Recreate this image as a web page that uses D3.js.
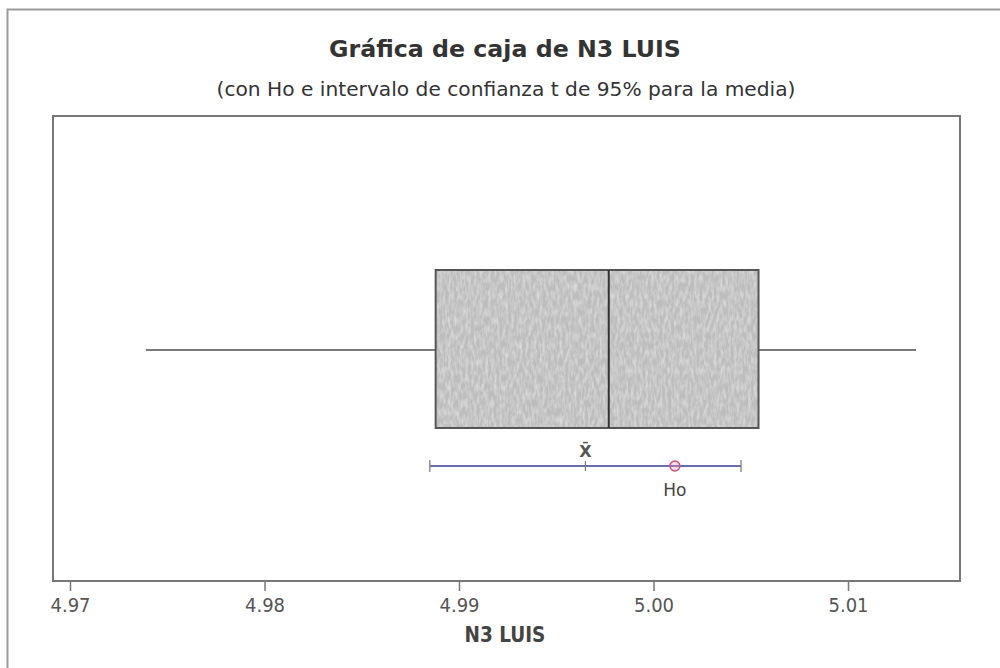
<!DOCTYPE html>
<html>
<head>
<meta charset="utf-8">
<script src="https://cdn.jsdelivr.net/npm/d3@7"></script>
<style>
  html, body { margin: 0; padding: 0; background: #fff; }
  svg { display: block; }
</style>
</head>
<body>
<svg id="chart" width="1000" height="668"></svg>
<script>
// Summary statistics for N3 LUIS
const boxStats = { min: 4.9739, q1: 4.9888, median: 4.9977, q3: 5.0054, max: 5.0135 };
const ciBounds = [4.9885, 5.0045];
const meanValue = 4.9965;
const nullValue = 5.0011;
const tickValues = [4.97, 4.98, 4.99, 5.00, 5.01];
const tickLabels = ["4.97", "4.98", "4.99", "5.00", "5.01"];

const svg = d3.select("#chart");
const W = 1000, H = 668;
const frame = { left: 53, right: 960, top: 116, bottom: 581 };
const fontFam = "'DejaVu Sans', sans-serif";
const fontCond = "'DejaVu Sans Condensed', 'DejaVu Sans', sans-serif";

// grainy texture for the box fill
const defs = svg.append("defs");
const grain = defs.append("filter").attr("id", "grain").attr("x", 0).attr("y", 0).attr("width", 1).attr("height", 1);
grain.append("feTurbulence").attr("type", "fractalNoise").attr("baseFrequency", "0.35 0.12").attr("numOctaves", 2).attr("seed", 4).attr("result", "noise");
grain.append("feColorMatrix").attr("in", "noise").attr("type", "matrix")
  .attr("values", "0 0 0 0 0.94  0 0 0 0 0.94  0 0 0 0 0.94  0.9 0 0 0 -0.32").attr("result", "speck");
grain.append("feComposite").attr("in", "speck").attr("in2", "SourceGraphic").attr("operator", "in").attr("result", "specks");
grain.append("feMerge").selectAll("feMergeNode").data(["SourceGraphic", "specks"]).join("feMergeNode").attr("in", d => d);

// outer border of the graph window
svg.append("path")
  .attr("d", `M7.5,${H} V9.5 H${W}`)
  .attr("fill", "none").attr("stroke", "#9a9a9a").attr("stroke-width", 2);

// titles
svg.append("text")
  .attr("x", 505).attr("y", 57)
  .attr("text-anchor", "middle")
  .attr("font-family", fontFam).attr("font-weight", "bold").attr("font-size", 23.7)
  .attr("fill", "#333")
  .text("Gráfica de caja de N3 LUIS");
svg.append("text")
  .attr("x", 506).attr("y", 96)
  .attr("text-anchor", "middle")
  .attr("font-family", fontFam).attr("font-size", 20.2)
  .attr("fill", "#333")
  .text("(con Ho e intervalo de confianza t de 95% para la media)");

// x scale
const x = d3.scaleLinear().domain([4.97, 5.01]).range([70, 848]);

// plot frame
svg.append("rect")
  .attr("x", frame.left).attr("y", frame.top)
  .attr("width", frame.right - frame.left).attr("height", frame.bottom - frame.top)
  .attr("fill", "#fff").attr("stroke", "#777").attr("stroke-width", 2);

// bottom axis
const axis = d3.axisBottom(x)
  .tickValues(tickValues)
  .tickFormat((d, i) => tickLabels[i])
  .tickSize(9).tickSizeOuter(0).tickPadding(7);
const gAxis = svg.append("g").attr("transform", `translate(0,${frame.bottom + 1})`).call(axis);
gAxis.select(".domain").remove();
gAxis.selectAll(".tick line").attr("stroke", "#777").attr("stroke-width", 1.5);
gAxis.selectAll(".tick text")
  .attr("font-family", fontCond).attr("font-size", 20).attr("fill", "#555");

svg.append("text")
  .attr("x", 505).attr("y", 642)
  .attr("text-anchor", "middle")
  .attr("font-family", fontCond).attr("font-weight", "bold").attr("font-size", 20.5)
  .attr("fill", "#444")
  .text("N3 LUIS");

// box plot
const yMid = 350, boxTop = 270, boxBot = 428;
svg.append("line")
  .attr("x1", x(boxStats.min)).attr("x2", x(boxStats.q1))
  .attr("y1", yMid).attr("y2", yMid)
  .attr("stroke", "#7a7a7a").attr("stroke-width", 2);
svg.append("line")
  .attr("x1", x(boxStats.q3)).attr("x2", x(boxStats.max))
  .attr("y1", yMid).attr("y2", yMid)
  .attr("stroke", "#7a7a7a").attr("stroke-width", 2);
svg.append("rect")
  .attr("x", x(boxStats.q1)).attr("y", boxTop)
  .attr("width", x(boxStats.q3) - x(boxStats.q1)).attr("height", boxBot - boxTop)
  .attr("fill", "#bdbdbd").attr("filter", "url(#grain)");
svg.append("rect")
  .attr("x", x(boxStats.q1)).attr("y", boxTop)
  .attr("width", x(boxStats.q3) - x(boxStats.q1)).attr("height", boxBot - boxTop)
  .attr("fill", "none").attr("stroke", "#555").attr("stroke-width", 2);
svg.append("line")
  .attr("x1", x(boxStats.median)).attr("x2", x(boxStats.median))
  .attr("y1", boxTop).attr("y2", boxBot)
  .attr("stroke", "#333").attr("stroke-width", 2);

// confidence interval for the mean
const yCI = 466;
svg.append("line")
  .attr("x1", x(ciBounds[0])).attr("x2", x(ciBounds[1]))
  .attr("y1", yCI).attr("y2", yCI)
  .attr("stroke", "#6a6fa8").attr("stroke-width", 1.8);
svg.selectAll("line.ci-end").data(ciBounds).join("line")
  .attr("class", "ci-end")
  .attr("x1", d => x(d)).attr("x2", d => x(d))
  .attr("y1", yCI - 6).attr("y2", yCI + 6)
  .attr("stroke", "#777").attr("stroke-width", 1.2);
svg.append("line")
  .attr("x1", x(meanValue)).attr("x2", x(meanValue))
  .attr("y1", yCI - 5).attr("y2", yCI + 5)
  .attr("stroke", "#777").attr("stroke-width", 1.2);
svg.append("text")
  .attr("x", x(meanValue)).attr("y", 457)
  .attr("text-anchor", "middle")
  .attr("font-family", fontFam).attr("font-weight", "bold").attr("font-size", 16)
  .attr("fill", "#555")
  .text("X̄");

// hypothesized mean
svg.append("circle")
  .attr("cx", x(nullValue)).attr("cy", yCI).attr("r", 5)
  .attr("fill", "rgba(230,150,180,0.35)").attr("stroke", "#d0507a").attr("stroke-width", 1.5);
svg.append("text")
  .attr("x", x(nullValue)).attr("y", 496)
  .attr("text-anchor", "middle")
  .attr("font-family", fontFam).attr("font-size", 17)
  .attr("fill", "#444")
  .text("Ho");
</script>
</body>
</html>
